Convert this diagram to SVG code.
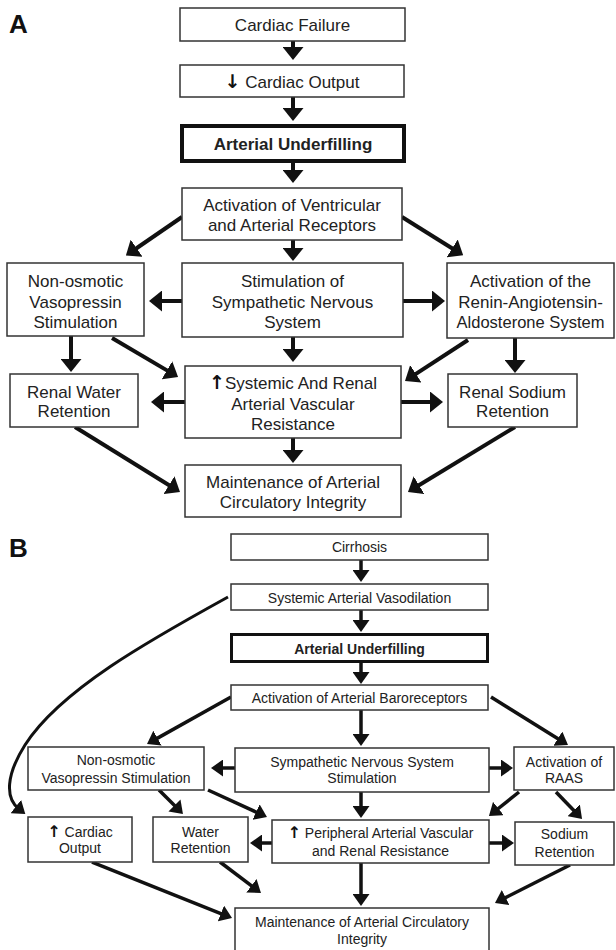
<svg xmlns="http://www.w3.org/2000/svg" width="616" height="950" viewBox="0 0 616 950">
<style>
.bx{fill:#fff;stroke:#333;stroke-width:1.5}
.tk{fill:#fff;stroke:#111;stroke-width:4}
.tk2{fill:#fff;stroke:#111;stroke-width:3}
.ta{font-family:"Liberation Sans",Arial,sans-serif;font-size:17px;fill:#222;text-anchor:middle}
.tb{font-family:"Liberation Sans",Arial,sans-serif;font-size:14px;fill:#222;text-anchor:middle}
.bold{font-weight:bold}
.ar{font-family:"DejaVu Sans",sans-serif;font-weight:bold;fill:#111}
.lbl{font-family:"Liberation Sans",Arial,sans-serif;font-size:26px;font-weight:bold;fill:#111}
.ca{stroke:#111;stroke-width:4;fill:none;marker-end:url(#ha)}
.cb{stroke:#111;stroke-width:3.5;fill:none;marker-end:url(#hb)}
.cc{stroke:#111;stroke-width:3;fill:none;marker-end:url(#hb)}
</style>
<defs>
<marker id="ha" viewBox="0 0 13 21" refX="5" refY="10.5" markerWidth="13" markerHeight="21" markerUnits="userSpaceOnUse" orient="auto"><path d="M0,0 L13,10.5 L0,21 z" fill="#111"/></marker>
<marker id="hb" viewBox="0 0 12 17" refX="4" refY="8.5" markerWidth="12" markerHeight="17" markerUnits="userSpaceOnUse" orient="auto"><path d="M0,0 L12,8.5 L0,17 z" fill="#111"/></marker>
</defs>
<rect width="616" height="950" fill="#fff"/>
<text class="lbl" x="9" y="33">A</text>
<text class="lbl" x="9" y="557">B</text>

<g id="connectors">
<line class="ca" x1="293" y1="41" x2="293" y2="52"/>
<line class="ca" x1="293" y1="97" x2="293" y2="113"/>
<line class="ca" x1="293" y1="163" x2="293" y2="175"/>
<line class="ca" x1="182" y1="217" x2="132.5" y2="251"/>
<line class="ca" x1="402" y1="217" x2="456.4" y2="251"/>
<line class="ca" x1="293" y1="240" x2="293" y2="253"/>
<line class="ca" x1="182" y1="301" x2="157" y2="301"/>
<line class="ca" x1="403" y1="301" x2="437" y2="301"/>
<line class="ca" x1="71" y1="336" x2="71" y2="364"/>
<line class="ca" x1="112" y1="338" x2="171.2" y2="372.9"/>
<line class="ca" x1="293" y1="337" x2="293" y2="354"/>
<line class="ca" x1="468" y1="340" x2="411.7" y2="376.6"/>
<line class="ca" x1="515" y1="338" x2="515" y2="365"/>
<line class="ca" x1="185" y1="402" x2="159" y2="402"/>
<line class="ca" x1="401" y1="402" x2="435" y2="402"/>
<line class="ca" x1="293" y1="438" x2="293" y2="455"/>
<line class="ca" x1="75" y1="427" x2="173.2" y2="487.8"/>
<line class="ca" x1="515" y1="427" x2="414.8" y2="487.8"/>

<line class="cb" x1="361" y1="560" x2="361" y2="574"/>
<line class="cb" x1="361" y1="610" x2="361" y2="624"/>
<line class="cb" x1="361" y1="663" x2="361" y2="676"/>
<line class="cb" x1="231" y1="697" x2="154" y2="740.1"/>
<line class="cb" x1="491" y1="697" x2="561.2" y2="740.8"/>
<line class="cb" x1="361" y1="710" x2="361" y2="738"/>
<line class="cb" x1="235" y1="768" x2="219" y2="768"/>
<line class="cb" x1="489" y1="768" x2="505" y2="768"/>
<line class="cb" x1="159" y1="790" x2="177.3" y2="808.3"/>
<line class="cb" x1="208" y1="790" x2="259.7" y2="813.7"/>
<line class="cb" x1="361" y1="792" x2="361" y2="810"/>
<line class="cb" x1="519" y1="792" x2="495.2" y2="811"/>
<line class="cb" x1="556" y1="792" x2="576.5" y2="813.2"/>
<line class="cb" x1="272" y1="843" x2="258" y2="843"/>
<line class="cb" x1="489" y1="843" x2="506" y2="843"/>
<line class="cb" x1="361" y1="863" x2="361" y2="898"/>
<line class="cb" x1="92" y1="862" x2="224.6" y2="915"/>
<line class="cb" x1="220" y1="862" x2="254.6" y2="888.2"/>
<line class="cb" x1="570" y1="865" x2="502.1" y2="899.4"/>
<path class="cc" d="M228,597 C150,640 60,690 25,745 C6,775 5,798 19,809"/>
</g>

<g id="a-cardiac-failure"><rect class="bx" x="180" y="8" width="225" height="33"/><text class="ta" x="292.5" y="31">Cardiac Failure</text></g>
<g id="a-cardiac-output"><rect class="bx" x="180" y="65" width="224" height="32"/><text class="ta" x="292" y="87.5"><tspan class="ar" font-size="19">↓</tspan> Cardiac Output</text></g>
<g id="a-underfilling"><rect class="tk" x="182" y="126" width="222" height="35"/><text class="ta bold" x="293" y="150">Arterial Underfilling</text></g>
<g id="a-receptors"><rect class="bx" x="182" y="188" width="220" height="52"/><text class="ta" x="292" y="211">Activation of Ventricular</text><text class="ta" x="292" y="231">and Arterial Receptors</text></g>
<g id="a-vasopressin"><rect class="bx" x="7" y="263" width="137" height="73"/><text class="ta" x="75.5" y="287">Non-osmotic</text><text class="ta" x="75.5" y="308">Vasopressin</text><text class="ta" x="75.5" y="328">Stimulation</text></g>
<g id="a-sympathetic"><rect class="bx" x="182" y="263" width="221" height="74"/><text class="ta" x="292.5" y="287">Stimulation of</text><text class="ta" x="292.5" y="308">Sympathetic Nervous</text><text class="ta" x="292.5" y="328">System</text></g>
<g id="a-raas"><rect class="bx" x="447" y="263" width="167" height="75"/><text class="ta" x="530.5" y="287">Activation of the</text><text class="ta" x="530.5" y="308">Renin-Angiotensin-</text><text class="ta" x="530.5" y="328" textLength="148" lengthAdjust="spacingAndGlyphs">Aldosterone System</text></g>
<g id="a-water"><rect class="bx" x="10" y="374" width="128" height="53"/><text class="ta" x="74" y="398">Renal Water</text><text class="ta" x="74" y="417">Retention</text></g>
<g id="a-resistance"><rect class="bx" x="185" y="366" width="216" height="72"/><text class="ta" x="293" y="389"><tspan class="ar" font-size="19">↑</tspan>Systemic And Renal</text><text class="ta" x="293" y="410">Arterial Vascular</text><text class="ta" x="293" y="430">Resistance</text></g>
<g id="a-sodium"><rect class="bx" x="448" y="374" width="129" height="53"/><text class="ta" x="512.5" y="398">Renal Sodium</text><text class="ta" x="512.5" y="417">Retention</text></g>
<g id="a-maintenance"><rect class="bx" x="185" y="465" width="216" height="52"/><text class="ta" x="293" y="488">Maintenance of Arterial</text><text class="ta" x="293" y="508">Circulatory Integrity</text></g>

<g id="b-cirrhosis"><rect class="bx" x="231" y="534" width="257" height="26"/><text class="tb" x="359.5" y="552">Cirrhosis</text></g>
<g id="b-vasodilation"><rect class="bx" x="231" y="584" width="257" height="26"/><text class="tb" x="359.5" y="603">Systemic Arterial Vasodilation</text></g>
<g id="b-underfilling"><rect class="tk2" x="231.5" y="634.5" width="256" height="27"/><text class="tb bold" x="359.5" y="654">Arterial Underfilling</text></g>
<g id="b-baroreceptors"><rect class="bx" x="231" y="685" width="257" height="25"/><text class="tb" x="359.5" y="703">Activation of Arterial Baroreceptors</text></g>
<g id="b-vasopressin"><rect class="bx" x="28" y="747" width="176" height="43"/><text class="tb" x="116" y="765">Non-osmotic</text><text class="tb" x="116" y="783">Vasopressin Stimulation</text></g>
<g id="b-sympathetic"><rect class="bx" x="235" y="748" width="254" height="44"/><text class="tb" x="362" y="767">Sympathetic Nervous System</text><text class="tb" x="362" y="783">Stimulation</text></g>
<g id="b-raas"><rect class="bx" x="514" y="747" width="100" height="43"/><text class="tb" x="564" y="767">Activation of</text><text class="tb" x="564" y="783">RAAS</text></g>
<g id="b-cardiac-output"><rect class="bx" x="28" y="817" width="104" height="45"/><text class="tb" x="80" y="837"><tspan class="ar" font-size="16">↑</tspan> Cardiac</text><text class="tb" x="80" y="853">Output</text></g>
<g id="b-water"><rect class="bx" x="153" y="817" width="95" height="45"/><text class="tb" x="200.5" y="837">Water</text><text class="tb" x="200.5" y="853">Retention</text></g>
<g id="b-resistance"><rect class="bx" x="272" y="820" width="217" height="43"/><text class="tb" x="380.5" y="838"><tspan class="ar" font-size="16">↑</tspan> Peripheral Arterial Vascular</text><text class="tb" x="380.5" y="856">and Renal Resistance</text></g>
<g id="b-sodium"><rect class="bx" x="515" y="822" width="99" height="43"/><text class="tb" x="564.5" y="839">Sodium</text><text class="tb" x="564.5" y="857">Retention</text></g>
<g id="b-maintenance"><rect class="bx" x="235" y="908" width="254" height="50"/><text class="tb" x="362" y="927">Maintenance of Arterial Circulatory</text><text class="tb" x="362" y="944">Integrity</text></g>
</svg>
